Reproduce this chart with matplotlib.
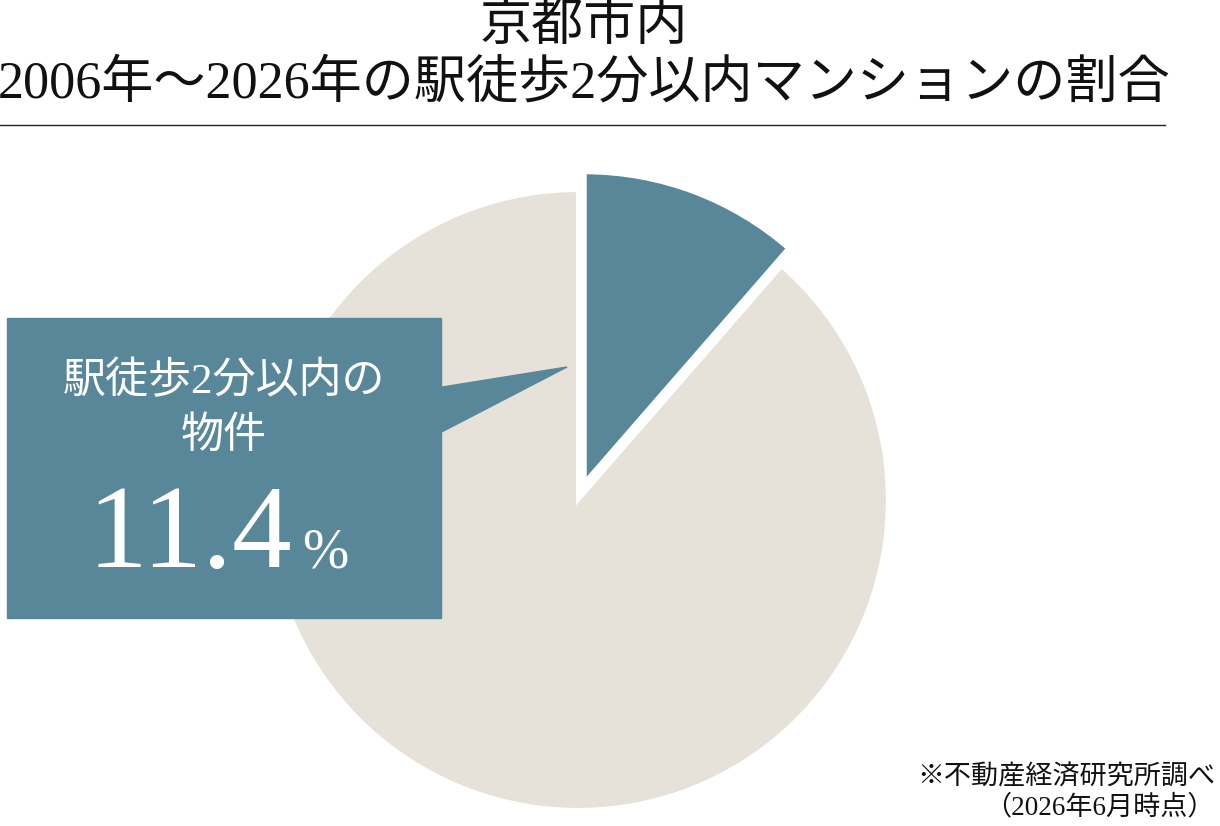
import matplotlib.pyplot as plt
from matplotlib.patches import Rectangle, Polygon

# データ
labels = ["駅徒歩2分以内", "その他"]
shares = [11.4, 88.6]
colors = ["#59879a", "#e6e2da"]

title_1 = "京都市内"
title_2 = "2006年～2026年の駅徒歩2分以内マンションの割合"
box_text = ["駅徒歩2分以内の", "物件"]
note = ["※不動産経済研究所調べ", "（2026年6月時点）"]

fonts = ["Liberation Serif", "Noto Sans CJK JP", "DejaVu Sans"]
plt.rcParams["font.family"] = fonts

W, H = 1220, 826
fig = plt.figure(figsize=(W / 100, H / 100), dpi=100)
ax = fig.add_axes([0, 0, 1, 1])

# 円グラフ（ピクセル座標、y は下から）
ax.pie(shares, colors=colors, startangle=90, counterclock=False,
       explode=[19, 0], center=(578, H - 500), radius=310,
       wedgeprops=dict(edgecolor="white", linewidth=3))
ax.set_xlim(0, W)
ax.set_ylim(0, H)
ax.set_aspect("auto")
ax.axis("off")

# タイトル
ax.text(584, H - 27, title_1, ha="center", va="center", fontsize=37.5, color="#111111")
ax.text(584, H - 84, title_2, ha="center", va="center", fontsize=37.5, color="#111111")
ax.plot([0, 1165], [H - 125, H - 125], color="#222222", lw=1)

# 吹き出し
ax.add_patch(Polygon([(430, H - 389), (430, H - 438), (567, H - 367)],
                     closed=True, color=colors[0], zorder=5))
ax.add_patch(Rectangle((7, H - 618), 434, 300, color=colors[0], zorder=5))
ax.text(224, H - 382, box_text[0], ha="center", va="center", fontsize=31,
        color="white", zorder=6)
ax.text(224, H - 437, box_text[1], ha="center", va="center", fontsize=31,
        color="white", zorder=6)
ax.text(292, H - 567, f"{shares[0]}", ha="right", va="baseline", fontsize=86,
        color="white", zorder=6)
ax.text(302, H - 567, "%", ha="left", va="baseline", fontsize=40,
        color="white", zorder=6)

# 注記
ax.text(1215, H - 778, note[0], ha="right", va="center", fontsize=19.5, color="#111111")
ax.text(1215, H - 808, note[1], ha="right", va="center", fontsize=19.5, color="#111111")

fig.savefig("out.png", dpi=100)
